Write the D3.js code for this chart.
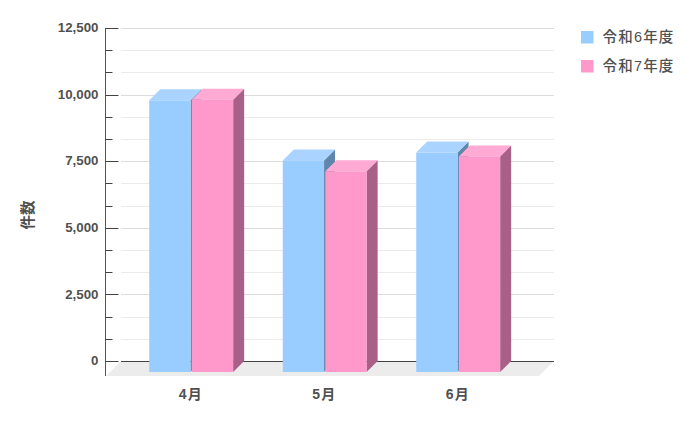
<!DOCTYPE html>
<html><head><meta charset="utf-8">
<script src="https://cdn.jsdelivr.net/npm/d3@7"></script>
<style>html,body{margin:0;padding:0;background:#fff}svg{display:block}
text{font-family:"Liberation Sans","Noto Sans CJK JP",sans-serif;fill:#505050;font-weight:700}</style>
</head><body><svg id="c" width="700" height="421"></svg>
<script>
const categories = ["4月","5月","6月"];
const seriesNames = ["令和6年度","令和7年度"];
const r6Values = [9785,7530,7825];
const r7Values = [9810,7120,7680];
const majorTicks = [0,2500,5000,7500,10000,12500];
const minorTicks = [833,1667,3333,4167,5833,6667,8333,9167,10833,11667];
const frontColors = ["#99ccff","#ff99cc"];
const topColors = ["#aad4ff","#ffaad4"];
const sideColors = ["#5f87ae","#a86088"];

const svg = d3.select("#c");
const y = d3.scaleLinear().domain([0,12500]).range([361,28]);
const x = d3.scaleBand().domain(categories).range([124.5,525]);
const inner = d3.scaleBand().domain(seriesNames).range([-42,42]);
const depth = 11, left = 105.5, gridL = 121, gridR = 554;

// floor
svg.append("polygon").attr("fill","#ececec")
  .attr("points",[[gridL,y(0)],[gridR,y(0)],[gridR-15,y(0)+15],[gridL-15,y(0)+15]].join(" "));

// grid
svg.selectAll(".minor").data(minorTicks).join("line").attr("x1",gridL).attr("x2",gridR)
  .attr("y1",d=>Math.round(y(d))+.5).attr("y2",d=>Math.round(y(d))+.5).attr("stroke","#ebebeb");
svg.selectAll(".major").data(majorTicks).join("line").attr("x1",gridL).attr("x2",gridR)
  .attr("y1",d=>Math.round(y(d))+.5).attr("y2",d=>Math.round(y(d))+.5)
  .attr("stroke",d=>d===0?"#444":"#dcdcdc");

// axis
const ax = svg.append("g").attr("transform",`translate(${left},0)`)
  .call(d3.axisLeft(y).tickValues(majorTicks).tickFormat(d3.format(",")).tickSize(0).tickPadding(7));
ax.select(".domain").remove();
ax.selectAll("text").style("font-size","13.3px").attr("dy","0.28em");
svg.append("line").attr("x1",left).attr("x2",left).attr("y1",28).attr("y2",376).attr("stroke","#555");
svg.selectAll(".mt").data(majorTicks).join("line").attr("x1",left).attr("x2",left+13)
  .attr("y1",d=>Math.round(y(d))+.5).attr("y2",d=>Math.round(y(d))+.5).attr("stroke","#444");
svg.selectAll(".nt").data(minorTicks).join("line").attr("x1",left).attr("x2",left+7)
  .attr("y1",d=>Math.round(y(d))+.5).attr("y2",d=>Math.round(y(d))+.5).attr("stroke","#444");

// bars
const rows = [];
categories.forEach((c,i)=>{
  rows.push({c,s:0,v:r6Values[i]});
  rows.push({c,s:1,v:r7Values[i]});
});
const base = y(0)+depth;
const g = svg.selectAll(".bar").data(rows).join("g");
const X0 = d=>x(d.c)+x.bandwidth()/2+inner(seriesNames[d.s])+(d.s?0.6:0);
const W = inner.bandwidth()-0.7;
g.append("polygon").attr("fill",d=>sideColors[d.s]).attr("points",d=>{
  const r=X0(d)+W,t=y(d.v);
  return [[r,t],[r+depth,t-depth],[r+depth,base-depth],[r,base]].join(" ");});
g.append("polygon").attr("fill",d=>topColors[d.s]).attr("points",d=>{
  const l=X0(d),t=y(d.v);
  return [[l,t],[l+depth,t-depth],[l+W+depth,t-depth],[l+W,t]].join(" ");});
g.append("rect").attr("fill",d=>frontColors[d.s]).attr("x",X0).attr("width",W)
  .attr("y",d=>y(d.v)).attr("height",d=>base-y(d.v));

// category labels
svg.selectAll(".cat").data(categories).join("text")
  .attr("x",d=>x(d)+x.bandwidth()/2-0.5).attr("y",399).attr("text-anchor","middle")
  .style("font-size","14px").style("letter-spacing","1.2px").text(d=>d);

// axis title
svg.append("text").attr("transform","translate(28,215) rotate(-90)").attr("text-anchor","middle")
  .attr("dy","0.36em").style("font-size","14.5px").text("件数");

// legend
const lg = svg.selectAll(".lg").data(seriesNames).join("g")
  .attr("transform",(d,i)=>`translate(581,${31+i*29})`);
lg.append("rect").attr("width",12.5).attr("height",12.5).attr("fill",(d,i)=>frontColors[i]);
lg.append("text").attr("x",21.5).attr("y",5.5).attr("dy","0.36em")
  .style("font-size","14.5px").style("letter-spacing","1.2px").style("font-weight",500).text(d=>d);
</script></body></html>
